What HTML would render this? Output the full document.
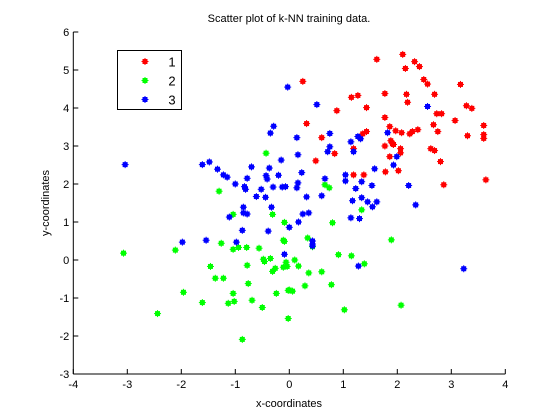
<!DOCTYPE html>
<html><head><meta charset="utf-8"><style>
body{margin:0;background:#fff;}
svg{display:block;font-family:"Liberation Sans",sans-serif;}
</style></head><body>
<svg id="chart" width="560" height="420">
<rect width="560" height="420" fill="#fff"/>
<text x="289" y="22" font-size="11" text-anchor="middle">Scatter plot of k-NN training data.</text>
<text x="289" y="407" font-size="11" text-anchor="middle">x-coordinates</text>
<text x="0" y="0" font-size="11" text-anchor="middle" transform="translate(49,203) rotate(-90)">y-coordinates</text>
<g id="axes"></g>
<g id="pts"></g>
<g>
<rect x="117.5" y="50.5" width="64" height="59" fill="#fff" stroke="#000" stroke-width="1"/>
<g id="leg"></g>
</g>
</svg>
<script>
const xTicks=[-4,-3,-2,-1,0,1,2,3,4];
const yTicks=[-3,-2,-1,0,1,2,3,4,5,6];
const class1X=[1.62,2.10,2.32,2.41,2.15,2.49,2.56,3.17,1.77,2.17,2.19,2.69,2.73,2.82,3.28,3.38,3.07,1.77,1.86,2.67,2.75,3.60,3.60,3.60,3.30,1.97,2.08,2.23,2.28,2.38,1.88,1.91,1.93,1.77,2.06,2.06,1.86,2.62,2.69,2.80,1.78,2.02,2.86,3.64,0.25,0.88,1.15,1.27,1.43,0.32,0.60,0.84,0.49,1.19,1.36,1.43,1.19,1.38];
const class1Y=[5.28,5.41,5.22,5.09,5.04,4.75,4.63,4.62,4.38,4.36,4.15,4.36,3.85,3.85,4.06,3.99,3.67,3.75,3.51,3.56,3.38,3.54,3.30,3.20,3.27,3.40,3.35,3.32,3.38,3.43,3.14,3.06,3.04,3.00,2.93,2.82,2.72,2.93,2.88,2.59,2.32,2.35,1.98,2.11,4.70,3.93,4.28,4.33,4.01,3.59,3.22,2.80,2.61,2.93,3.32,3.38,2.24,2.24];
const class2X=[-0.43,-1.30,-1.04,-0.31,-0.09,-0.11,-0.09,-3.07,-2.11,-1.26,-1.04,-0.94,-0.79,-0.56,-0.48,-0.46,-0.35,-1.46,-0.78,-1.37,-1.22,-0.31,-0.26,-0.11,-0.06,-0.04,-0.76,-1.96,-1.04,-0.24,-0.02,-1.61,-1.13,-1.02,-0.69,-0.50,-2.44,-0.87,-0.02,0.66,0.74,1.34,0.80,0.34,0.43,0.91,1.15,1.39,0.10,0.17,0.36,0.60,0.29,0.78,0.00,0.06,1.02,1.89,2.07];
const class2Y=[2.81,1.81,1.20,1.20,0.99,0.52,0.49,0.18,0.26,0.44,0.28,0.33,0.33,0.31,0.02,-0.04,0.04,-0.17,-0.14,-0.48,-0.48,-0.30,-0.22,-0.19,-0.06,-0.17,-0.62,-0.85,-0.88,-0.88,-0.80,-1.12,-1.14,-1.09,-1.06,-1.25,-1.41,-2.09,-1.54,1.98,1.90,1.32,0.98,0.58,0.35,0.14,0.11,-0.10,0.00,-0.16,-0.34,-0.31,-0.68,-0.65,-0.79,-0.82,-1.31,0.53,-1.19];
const class3X=[-3.04,-1.61,-1.48,-1.33,-1.22,-1.15,-1.00,-0.83,-0.81,-0.78,-0.70,-0.61,-0.52,-0.44,-0.43,-0.41,-0.37,-0.30,-0.20,-0.15,-0.13,-0.07,-0.33,-0.85,-0.85,-0.78,-1.11,-0.87,-0.39,0.00,-1.98,-1.54,-0.98,-0.09,-0.03,-0.29,-0.35,0.51,0.75,0.14,0.75,0.71,0.16,0.23,0.66,0.16,0.14,0.32,0.60,1.14,1.27,1.32,1.19,1.04,1.04,1.58,1.34,1.23,1.53,1.17,1.34,1.45,1.54,1.62,0.25,0.36,0.17,1.14,1.30,0.43,0.43,0.43,1.28,2.56,1.82,1.99,1.93,2.21,2.34,3.23];
const class3Y=[2.51,2.51,2.58,2.39,2.24,2.18,2.00,1.93,1.86,2.15,2.45,1.67,1.86,1.65,2.22,2.13,2.42,1.92,2.23,2.63,1.92,1.93,1.39,1.39,1.24,1.21,1.13,0.78,0.76,0.86,0.47,0.52,0.47,0.15,4.55,3.52,3.34,4.09,3.33,3.22,2.98,2.85,2.77,2.30,2.14,2.03,1.90,1.66,1.69,3.11,3.25,3.19,2.85,2.24,2.08,2.40,2.06,1.88,1.96,1.56,1.64,1.53,1.40,1.53,1.21,1.24,1.00,1.11,1.09,0.50,0.42,0.37,-0.16,4.04,3.35,2.72,2.50,1.96,1.45,-0.23];
const NS='http://www.w3.org/2000/svg';
const X0=73.3,X1=505.3,Y0=374,Y1=32;
const sx=v=>X0+(v-(-4))*(X1-X0)/8;
const sy=v=>Y0-(v-(-3))*(Y0-Y1)/9;
function mk(tag,attrs,parent){const e=document.createElementNS(NS,tag);for(const k in attrs)e.setAttribute(k,attrs[k]);parent.appendChild(e);return e;}
const axes=document.getElementById('axes');
let l=mk('line',{x1:X0,y1:Y0,x2:X1,y2:Y0,stroke:'#000'},axes);


l=mk('line',{x1:X0,y1:Y0,x2:X0,y2:Y1,stroke:'#000'},axes);


xTicks.forEach(v=>{
  const t=mk('line',{x1:sx(v),y1:Y0,x2:sx(v),y2:Y0-5,stroke:'#000'},axes);
  
  
  const tx=mk('text',{x:sx(v),y:Y0+14,'font-size':11,'text-anchor':'middle'},axes);
  tx.textContent=v;
  
  
});
yTicks.forEach(v=>{
  const t=mk('line',{x1:X0,y1:sy(v),x2:X0+5,y2:sy(v),stroke:'#000'},axes);
  
  
  const tx=mk('text',{x:X0-4,y:sy(v)+4,'font-size':11,'text-anchor':'end'},axes);
  tx.textContent=v;
  
  
});
function marker(px,py,col,parent){
  const g=mk('g',{fill:col,stroke:col},parent);
  mk('rect',{x:px-2.5,y:py-2.5,width:5,height:5,stroke:'none'},g);
  mk('line',{x1:px-3.5,y1:py,x2:px+3.5,y2:py,'stroke-width':1},g);
  mk('line',{x1:px,y1:py-3.5,x2:px,y2:py+3.5,'stroke-width':1},g);
  return g;
}
const pts=document.getElementById('pts');
const series=[[class1X,class1Y,'#ff0000','class-1'],[class2X,class2Y,'#00ff00','class-2'],[class3X,class3Y,'#0000ff','class-3']];
series.forEach(([xs,ys,c,n])=>{
  xs.forEach((x,i)=>{
    const m=marker(sx(x),sy(ys[i]),c,pts);
    
    
  });
});
const leg=document.getElementById('leg');
const legLabels=['1','2','3'];
legLabels.forEach((lab,i)=>{
  const y=61.5+i*19;
  const m=marker(145,y,series[i][2],leg);
  
  
  const t=mk('text',{x:172,y:y+5,'font-size':13,'text-anchor':'middle'},leg);
  t.textContent=lab;
  
  
});
</script>
</body></html>
